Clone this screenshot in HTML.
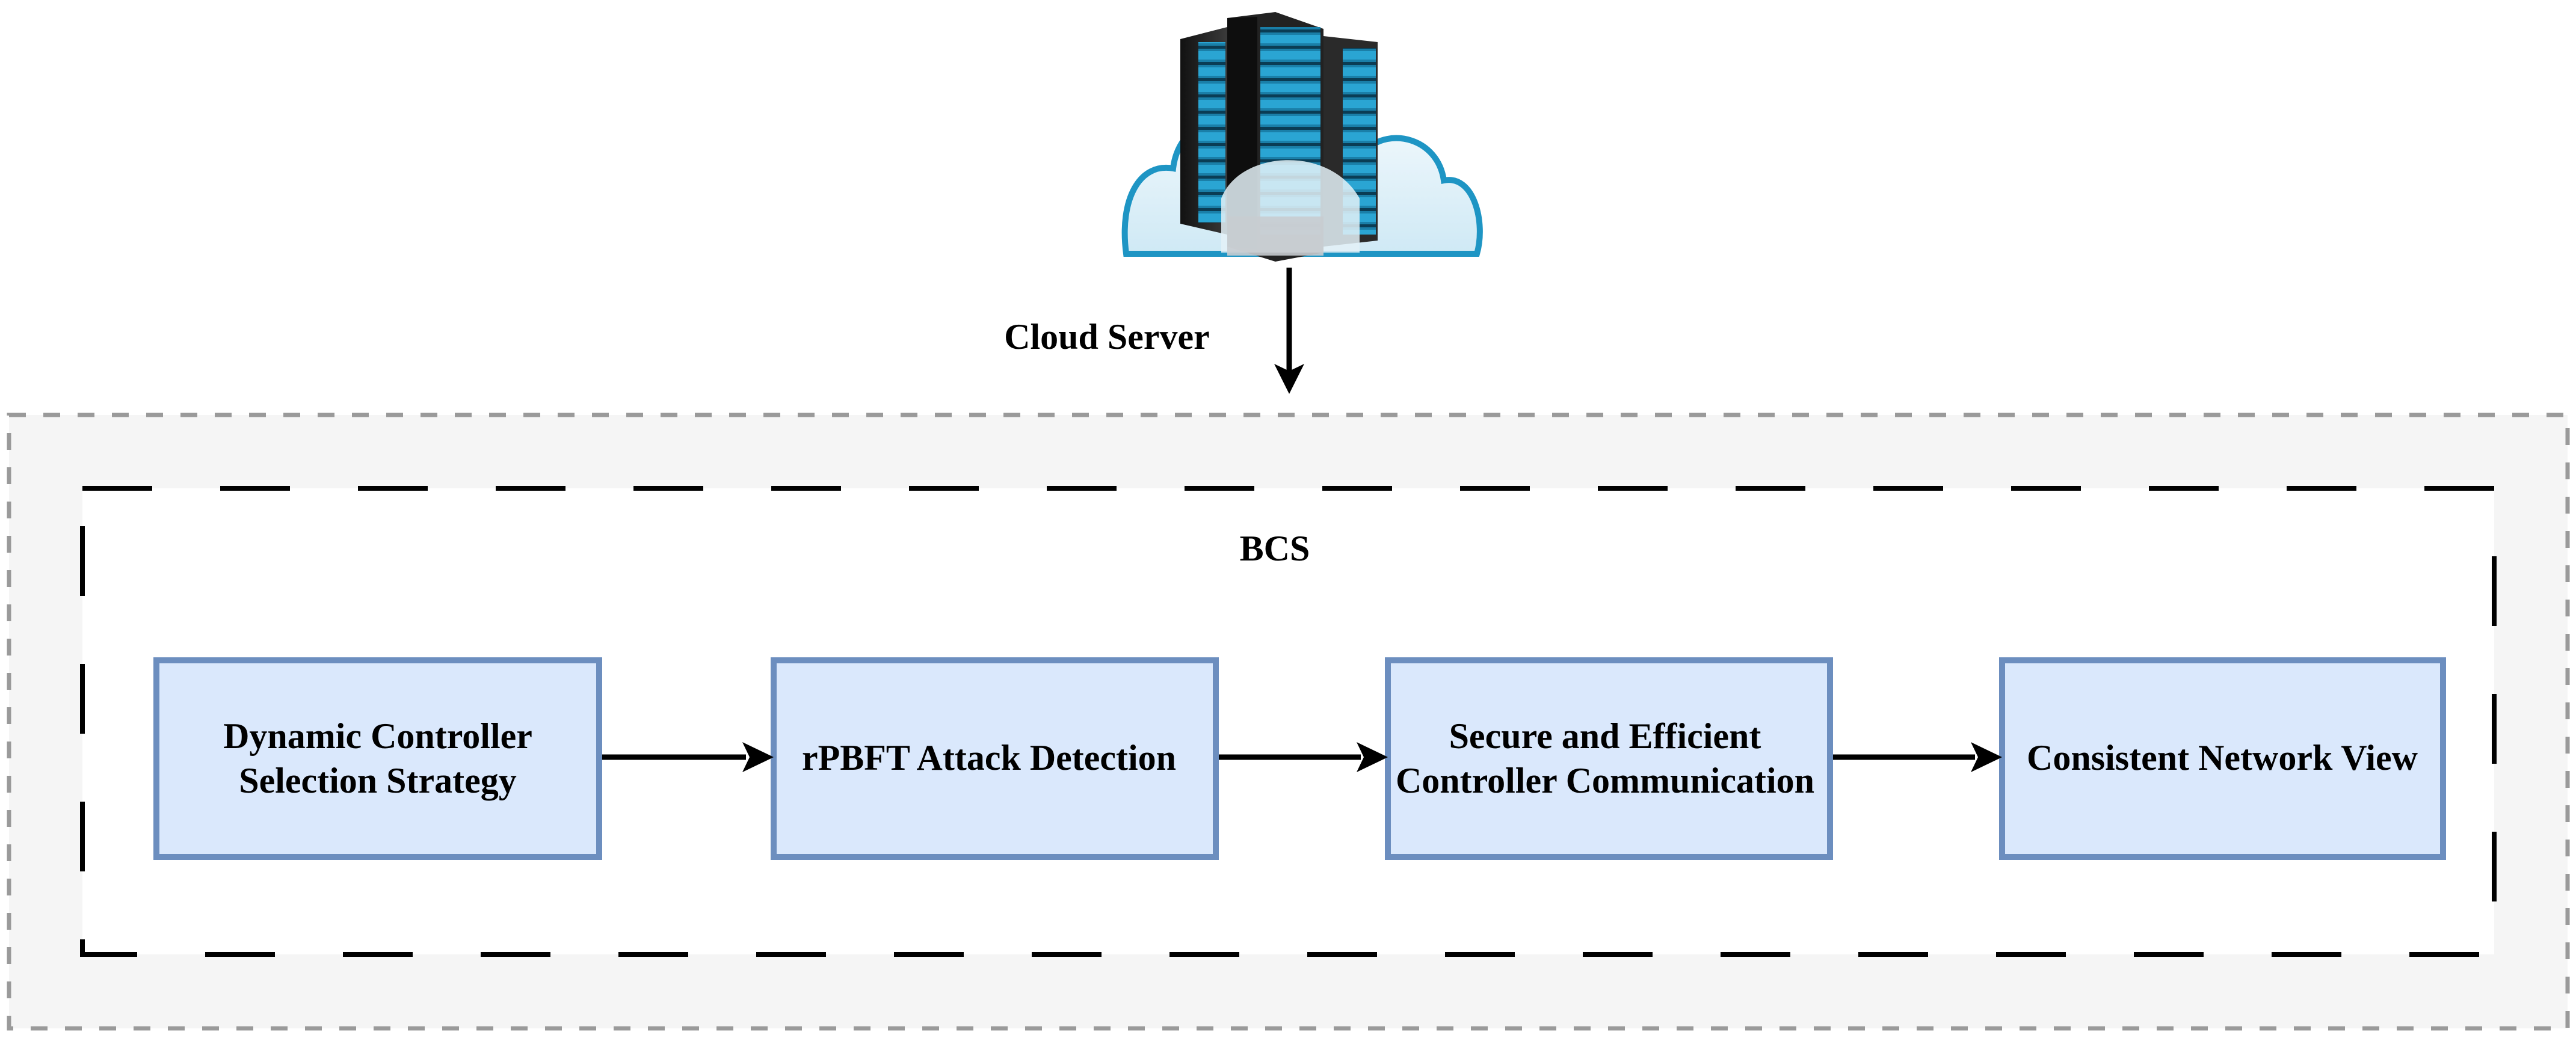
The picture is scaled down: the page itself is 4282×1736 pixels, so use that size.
<!DOCTYPE html>
<html><head><meta charset="utf-8"><style>
html,body{margin:0;padding:0;background:#fff;}
body{width:4282px;height:1736px;position:relative;overflow:hidden;}
svg{position:absolute;left:0;top:0;}
text{font-family:"Liberation Serif",serif;font-weight:bold;fill:#000;}
</style></head><body>
<svg width="4282" height="1736" viewBox="0 0 4282 1736" xmlns="http://www.w3.org/2000/svg">
<defs>
<linearGradient id="cl" x1="0" y1="0" x2="0" y2="1"><stop offset="0" stop-color="#f4fafd"/><stop offset="1" stop-color="#cfe9f5"/></linearGradient>
<linearGradient id="rk" x1="0" y1="0" x2="1" y2="0"><stop offset="0" stop-color="#111"/><stop offset="1" stop-color="#3a3a3a"/></linearGradient>
<pattern id="bays" x="0" y="0" width="20" height="27" patternUnits="userSpaceOnUse"><rect width="20" height="27" fill="#1a7fa8"/><rect y="22" width="20" height="5" fill="#0a3d55"/><rect x="0" y="4" width="20" height="14" fill="#2aa5d3"/></pattern>
</defs>
<rect x="15" y="690" width="4253" height="1020" fill="#f5f5f5" stroke="#9a9a9a" stroke-width="7" stroke-dasharray="28 29"/>
<rect x="137" y="812" width="4009" height="775" fill="#fff" stroke="#000" stroke-width="8" stroke-dasharray="116 113"/>
<text x="2119" y="932" font-size="60" text-anchor="middle">BCS</text>
<g fill="#dae8fc" stroke="#6c8ebf" stroke-width="10">
<rect x="260" y="1098" width="736" height="327"/>
<rect x="1286" y="1098" width="735" height="327"/>
<rect x="2307" y="1098" width="735" height="327"/>
<rect x="3328" y="1098" width="733" height="327"/>
</g>
<g font-size="60" text-anchor="middle">
<text x="628" y="1244">Dynamic Controller</text>
<text x="628" y="1318">Selection Strategy</text>
<text x="1644" y="1280">rPBFT Attack Detection</text>
<text x="2668" y="1244">Secure and Efficient</text>
<text x="2668" y="1318">Controller Communication</text>
<text x="3694" y="1280">Consistent Network View</text>
</g>
<g stroke="#000" stroke-width="9">
<line x1="1001" y1="1259" x2="1240" y2="1259"/>
<line x1="2026" y1="1259" x2="2262" y2="1259"/>
<line x1="3047" y1="1259" x2="3283" y2="1259"/>
<line x1="2143" y1="445" x2="2143" y2="620"/>
</g>
<g fill="#000">
<path d="M1286 1259 L1234 1234 L1246 1259 L1234 1284 Z"/>
<path d="M2307 1259 L2255 1234 L2267 1259 L2255 1284 Z"/>
<path d="M3328 1259 L3276 1234 L3288 1259 L3276 1284 Z"/>
<path d="M2143 655 L2118 605 L2143 617 L2168 605 Z"/>
</g>
<text x="1840" y="580" font-size="60" text-anchor="middle">Cloud Server</text>
<g>
<path d="M1872 422 C1860 330 1895 270 1950 280 C1960 200 2040 180 2080 230 C2110 150 2250 160 2270 250 C2310 210 2390 230 2400 300 C2450 290 2470 370 2455 422 Z" fill="url(#cl)" stroke="#1e95c4" stroke-width="10"/>
<polygon points="1962,65 2040,45 2040,390 1962,372" fill="url(#rk)"/>
<rect x="1992" y="70" width="45" height="300" fill="url(#bays)"/>
<polygon points="2040,30 2120,20 2200,48 2200,420 2120,435 2040,410" fill="#222"/>
<polygon points="2040,30 2090,28 2090,415 2040,410" fill="#0e0e0e"/>
<rect x="2095" y="45" width="100" height="345" fill="url(#bays)"/>
<polygon points="2200,60 2290,70 2290,400 2200,410" fill="#2a2a2a"/>
<rect x="2232" y="80" width="55" height="310" fill="url(#bays)"/>
<path d="M2030 330 C2060 250 2210 240 2260 330 L2260 420 L2030 420 Z" fill="#e4f1f7" opacity="0.85"/>
<rect x="2040" y="360" width="160" height="65" fill="#c8ccd0" opacity="0.9"/>
</g>
</svg>
</body></html>
